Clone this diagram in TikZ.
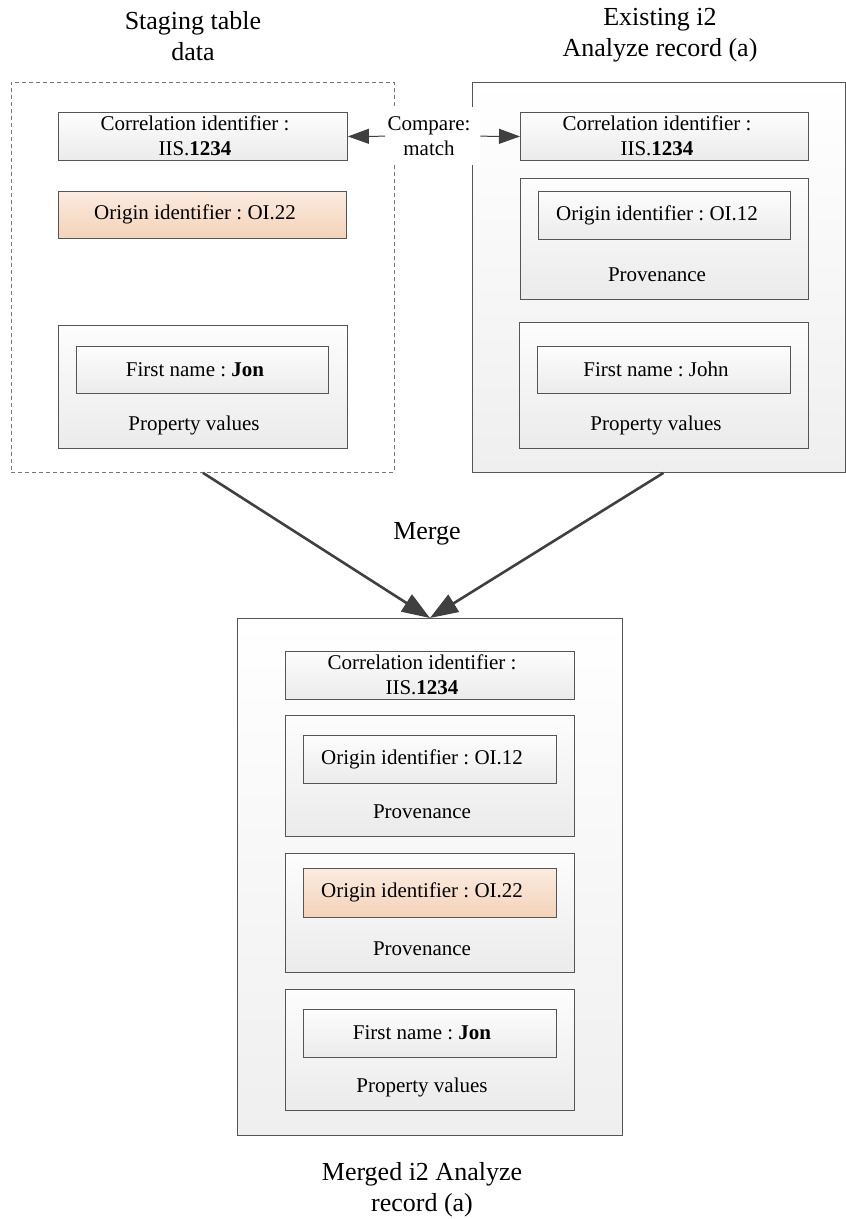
\documentclass[tikz,border=0pt]{standalone}
\usepackage{fontspec}
\setmainfont{Liberation Serif}
\usetikzlibrary{arrows.meta,calc}
\frenchspacing
\definecolor{bord}{HTML}{555555}
\definecolor{arr}{HTML}{404040}
\definecolor{gtop}{HTML}{FDFDFD}
\definecolor{gbot}{HTML}{EBEBEB}
\definecolor{otop}{HTML}{FBEBE0}
\definecolor{obot}{HTML}{F4D2B8}
\newcommand\bx[6]{\node[#2, anchor=north west, minimum width={#5-#3}, minimum height={#6-#4}] (#1) at (#3,#4) {};}
\tikzset{
  gbox/.style={draw=bord, line width=0.9pt, inner sep=0pt, top color=gtop, bottom color=gbot},
  obox/.style={draw=bord, line width=0.9pt, inner sep=0pt, top color=otop, bottom color=obot},
  outerbox/.style={draw=bord, line width=0.9pt, inner sep=0pt, top color=white, bottom color=gbot!80!white},
  dashbox/.style={draw=bord!80, line width=0.8pt, dash pattern=on 4pt off 3pt, inner sep=0pt},
  txt/.style={font=\fontsize{21}{25}\selectfont, align=center, inner sep=0pt},
  ttl/.style={font=\fontsize{26}{31}\selectfont, align=center, inner sep=0pt},
  merge/.style={draw=arr, line width=2.6pt, -{Triangle[length=28pt,width=20pt]}},
  cmparr/.style={draw=arr, line width=1pt, -{Triangle[length=21pt,width=15pt]}},
}
\begin{document}
\begin{tikzpicture}[x=1pt,y=-1pt]
\useasboundingbox (0,0) rectangle (846,1219);
% titles
\node[ttl] (t1) at (193,36) {Staging table\\data};
\node[ttl] (t2) at (660,35) {Existing i2\\Analyze record (a)};
\node[ttl] (t3) at (422,1190) {Merged i2 Analyze\\record (a)};
% staging
\bx{stg}{dashbox}{11}{82}{394}{472}
\bx{scorr}{gbox}{58}{112}{347}{160}
\bx{sorig}{obox}{58}{191}{346}{238}
\bx{sprop}{gbox}{58}{325}{347}{448}
\bx{sfn}{gbox}{76}{346}{328}{393}
\node[txt] (scorrt) at (195,136) {Correlation identifier :\\IIS.\textbf{1234}};
\node[txt] (sorigt) at (195,214.5) {Origin identifier : OI.22};
\node[txt] (sfnt) at (195,369.5) {First name : \textbf{Jon}};
\node[txt] (spropt) at (194,425) {Property values};
% existing
\bx{ext}{outerbox}{472}{82}{845}{472}
\bx{ecorr}{gbox}{520}{112}{808}{160}
\bx{eprov}{gbox}{520}{178}{808}{299}
\bx{eorig}{gbox}{538}{191}{790}{239}
\bx{eprop}{gbox}{519}{322}{808}{448}
\bx{efn}{gbox}{537}{346}{790}{393}
\node[txt] (ecorrt) at (657,136) {Correlation identifier :\\IIS.\textbf{1234}};
\node[txt] (eorigt) at (657,215) {Origin identifier : OI.12};
\node[txt] (eprovt) at (657,275) {Provenance};
\node[txt] (efnt) at (656,369.5) {First name : John};
\node[txt] (epropt) at (656,425) {Property values};
% compare
\bx{cmp}{fill=white, inner sep=0pt}{385}{107}{480}{165}
\node[txt] (cmpt) at (429,136) {Compare:\\match};
\draw[cmparr] (cmp.west) -- (scorr.east);
\draw[cmparr] (cmp.east) -- (ecorr.west);
% merged
\bx{mrg}{outerbox}{237}{618}{622}{1135}
\bx{mcorr}{gbox}{285}{651}{574}{699}
\bx{mprov1}{gbox}{285}{715}{574}{836}
\bx{morig1}{gbox}{303}{735}{556}{783}
\bx{mprov2}{gbox}{285}{853}{574}{972}
\bx{morig2}{obox}{303}{868}{556}{917}
\bx{mprop}{gbox}{285}{989}{574}{1110}
\bx{mfn}{gbox}{303}{1009}{556}{1057}
\node[txt] (mcorrt) at (422,675) {Correlation identifier :\\IIS.\textbf{1234}};
\node[txt] (morig1t) at (422,759) {Origin identifier : OI.12};
\node[txt] (mprov1t) at (422,812) {Provenance};
\node[txt] (morig2t) at (422,892.5) {Origin identifier : OI.22};
\node[txt] (mprov2t) at (422,949) {Provenance};
\node[txt] (mfnt) at (422,1033) {First name : \textbf{Jon}};
\node[txt] (mpropt) at (422,1087) {Property values};
% merge arrows
\node[ttl] (mlab) at (427,534) {Merge};
\draw[merge] (stg.south) -- (mrg.north);
\draw[merge] ($(ext.south west)!0.512!(ext.south east)$) -- (mrg.north);
\end{tikzpicture}
\end{document}
